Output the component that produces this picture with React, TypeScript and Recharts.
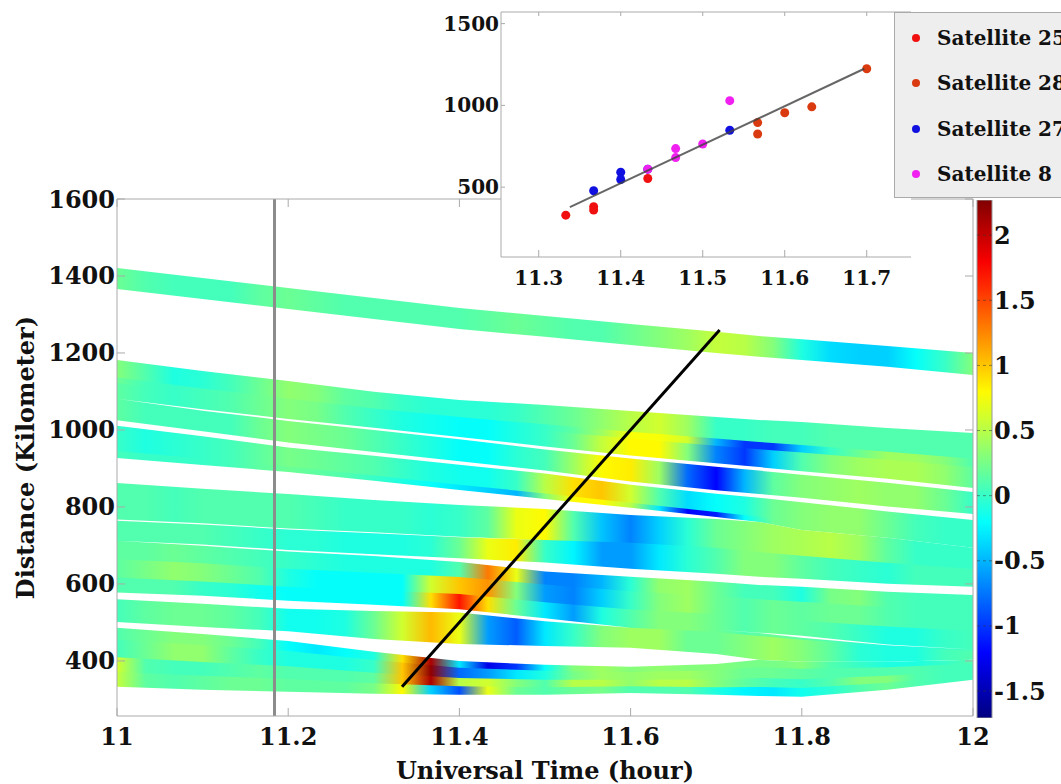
import React from "react";
import {
  ComposedChart, ScatterChart, Area, Bar, Scatter, XAxis, YAxis, ReferenceLine, CartesianGrid, Legend,
} from "recharts";

const FONT = "'DejaVu Serif', serif";

// ---------- main chart axes ----------
const xTicks = [11, 11.2, 11.4, 11.6, 11.8, 12];
const yTicks = [400, 600, 800, 1000, 1200, 1400, 1600];
const xDomain = [11, 12];
const yDomain = [257, 1600];
const colorDomain = [-1.707, 2.27];
const colorTicks = [-1.5, -1, -0.5, 0, 0.5, 1, 1.5, 2];

// ---------- band edges (km) at these times ----------
const edgeTimes = [11, 11.1, 11.2, 11.3, 11.4, 11.5, 11.6, 11.7, 11.75, 11.8, 11.9, 12];
const aTop = [1421, 1395, 1369, 1343, 1317, 1296, 1275, 1255, 1244, 1236, 1218, 1200];
const aBot = [1366, 1340, 1314, 1288, 1262, 1242, 1221, 1200, 1190, 1182, 1164, 1143];
const bTop = [1182, 1153, 1127, 1099, 1078, 1065, 1049, 1034, 1026, 1021, 1005, 992];
const slit1 = [1081, 1052, 1026, 1003, 979, 953, 930, 909, 899, 888, 868, 844];
const slit1W = [0, 4, 5, 6, 6, 8, 8, 9, 9, 9, 10, 10];
const slit2 = [1018, 990, 961, 938, 914, 891, 862, 839, 829, 818, 795, 774];
const slit2W = [14, 13, 13, 10, 9, 8, 8, 9, 10, 12, 13, 16];
const bBot = [927, 909, 891, 868, 844, 821, 798, 774, 761, 740, 720, 694];
const cTop = [862, 847, 834, 818, 805, 795, 779, 769, 761, 740, 720, 694];
const cSlit = [766, 756, 743, 733, 722, 714, 707, 694, 683, 673, 655, 639];
const cSlitW = [3, 3, 2.5, 2.5, 1.5, 0, 0, 0, 0, 0, 0, 0];
const dSlit = [712, 701, 686, 675, 662, 644, 629, 616, 608, 603, 590, 582];
const dSlitW = [0, 3, 4, 5, 10, 23, 21, 21, 21, 21, 21, 21];
const gapE = [569, 559, 546, 538, 530, 507, 486, 475, 465, 455, 439, 426];
const gapEW = [18, 21, 21, 16, 8, 8, 0, 0, 0, 0, 0, 0];
const fTopA = [501, 488, 477, 457, 444, 439, 434, 418, 403, 398, 398, 403];
const fTopB = [486, 470, 452, 424, 400, 390, 385, 392, 403, 398, 398, 403];
const hBot = [333, 325, 320, 315, 312, 312, 317, 312, 309, 307, 325, 351];
const slitG = [500, 495, 490, 486, 484, 483, 482, 481, 473, 463, 442, 430];
const slitGW = [0, 0, 0, 0, 0, 0, 0, 0, 1, 5, 2, 0];

// ---------- anomaly values, one per 2-minute column from 11 to 12 h ----------
const rowA = [0.2, 0.1, 0.05, 0.05, 0.05, 0.15, 0.2, 0.15, 0.1, 0.1, 0.1, 0.1, 0.1, 0.15, 0.2, 0.15, 0.1, 0.1, 0.2, 0.3, 0.4, 0.55, 0.5, 0.3, -0.1, -0.35, -0.4, -0.4, -0.2, 0, 0.3];
const rowB1a = [0.3, 0.1, -0.1, -0.05, 0.05, 0.2, 0.35, 0.3, 0.15, 0.1, 0, -0.05, -0.05, -0.05, 0, 0.1, 0.2, 0.35, 0.5, 0.6, 0.4, 0, 0, 0.05, 0.05, 0.1, 0.1, 0.1, 0.1, 0.1, 0.1];
const rowB1b = [0.2, 0.05, 0, 0.05, 0.1, 0.2, 0.3, 0.25, 0.1, 0, -0.1, -0.15, -0.2, -0.2, -0.1, 0, 0.15, 0.4, 0.75, 0.75, 0.6, -0.5, -1, -1, -0.4, 0, 0.2, 0.4, 0.4, 0.3, 0.1];
const rowB1c = [0.15, 0.05, 0, 0.05, 0.1, 0.2, 0.3, 0.25, 0.1, 0, -0.1, -0.15, -0.2, -0.2, -0.1, 0, 0.2, 0.55, 0.8, 0.8, 0.3, -0.7, -1, -0.4, 0.1, 0.3, 0.4, 0.45, 0.45, 0.35, 0.15];
const rowB2 = [0.15, 0.05, 0.05, 0.05, 0.05, 0.2, 0.3, 0.25, 0.2, 0.1, 0, -0.1, -0.2, -0.2, -0.05, 0.05, 0.4, 0.8, 0.85, 0.4, -0.8, -1.2, -0.5, 0.15, 0.3, 0.35, 0.4, 0.35, 0.35, 0.2, 0];
const rowB3 = [0, -0.1, -0.05, 0, 0.05, 0.15, 0.25, 0.2, 0.15, 0.1, 0, -0.1, -0.15, -0.15, 0, 0.5, 0.9, 1, 0.6, 0.1, -0.35, -0.2, -0.1, 0.2, 0.3, 0.35, 0.35, 0.2, 0.05, 0, 0];
const rowB3b = [0.05, 0, 0, 0, 0.05, 0.15, 0.2, 0.15, 0.1, 0, -0.1, -0.2, -0.3, -0.4, -0.5, 0.3, 0.8, 0.8, 0.5, -0.3, -1.2, -1.1, -0.2, 0.2, 0.3, 0.35, 0.35, 0.2, 0.05, 0, 0];
const rowC1 = [0.1, 0.1, 0.05, 0.1, 0.1, 0.1, 0.1, 0.05, 0, 0, 0, -0.05, 0, 0.15, 0.7, 0.8, 0.1, -0.45, -0.7, -0.4, -0.05, 0.2, 0.3, 0.4, 0.45, 0.5, 0.4, 0.15, 0, 0, 0];
const rowC2 = [0.1, 0.1, 0.1, 0.1, 0.05, 0, -0.05, -0.05, -0.1, -0.1, -0.1, -0.05, 0.2, 0.7, 0.85, 0, -0.25, -0.6, -0.6, -0.3, -0.05, 0.1, 0.3, 0.3, 0.15, 0.05, 0, -0.05, 0.05, 0.05, 0.05];
const rowD1 = [0.15, 0.15, 0.2, 0.15, 0.1, 0.05, 0, -0.05, -0.1, -0.1, -0.1, -0.1, 0.1, 1.3, 0.7, -0.7, -0.7, -0.5, -0.05, 0.35, 0.4, 0.2, 0.05, 0.05, -0.1, 0.25, 0.3, 0.1, 0.05, 0.05, 0.05];
const rowD2 = [0.15, 0.25, 0.35, 0.3, 0.2, 0.1, -0.1, -0.2, -0.2, -0.2, -0.2, 0.6, 1, 1.2, 0.3, -0.6, -0.7, -0.4, 0, 0.3, 0.4, 0.2, 0.1, 0.2, 0.15, 0.2, 0.2, 0.1, 0.05, 0.05, 0.05];
const rowD3 = [0.1, 0.1, 0.1, 0, -0.05, -0.15, -0.2, -0.2, -0.2, -0.2, -0.2, 0.9, 1.7, 0.9, 0.2, -0.3, -0.6, -0.1, 0.1, 0.3, 0.3, 0.2, 0.1, 0.2, 0.15, 0.1, 0, -0.1, -0.1, 0, 0.05];
const rowE = [0.05, 0.15, 0.2, 0.2, 0.15, 0.05, -0.15, -0.15, -0.1, 0.2, 0.6, 1.05, 0.7, -0.6, -0.85, -0.3, 0, 0.3, 0.4, 0.4, 0.2, 0.2, 0.3, 0.4, 0.3, 0.15, -0.05, -0.1, -0.1, 0.05, 0.1];
const rowF1 = [0.1, 0.2, 0.3, 0.3, 0.2, 0.05, -0.2, -0.3, -0.2, -0.1, 0.9, 2.1, -0.3, -1.3, -1, -0.2, 0.3, 0.4, 0.3, 0.35, 0.3, 0.3, 0.25, 0.25, 0.3, 0.1, 0, -0.1, -0.1, 0, 0.1];
const rowF2 = [0.05, 0.2, 0.35, 0.35, 0.15, 0, -0.1, -0.1, -0.1, 0, 1, 2.2, -0.8, -0.6, -0.3, -0.1, 0.25, 0.4, 0.35, 0.4, 0.4, 0.3, 0.2, 0.2, 0.15, 0.1, 0.1, 0.1, 0.1, 0.05, 0.05];
const rowF3 = [0.6, 0.1, 0.05, 0.05, 0.1, 0.15, 0.1, 0.1, 0.1, 0.15, 1, 2.1, 0.5, 0.6, 0.3, 0.1, 0.5, 0.5, 0.35, 0.5, 0.5, 0.3, 0.15, 0.05, 0, 0.1, 0.3, 0.3, 0.1, 0.05, 0.05];
const rowF4 = [0.55, 0.15, 0.1, 0.15, 0.2, 0.2, 0.15, 0.15, 0.15, 0.25, 0.8, -0.4, -0.9, 0.7, 0.2, 0.1, 0.2, 0.25, 0.1, 0.1, 0.1, -0.1, -0.25, -0.3, -0.15, -0.05, 0.1, 0.2, 0.1, 0.05, 0.05];

// ---------- fit lines and marker line ----------
const frontTimes = [11.333, 11.704];
const frontKm = [333, 1260];
const markerTime = 11.184;

// ---------- inset ----------
const insetXTicks = [11.3, 11.4, 11.5, 11.6, 11.7];
const insetYTicks = [500, 1000, 1500];
const insetXDomain = [11.254, 11.754];
const insetYDomain = [73, 1571];
const sat25 = [[11.333, 329], [11.367, 380], [11.367, 360], [11.433, 553]];
const sat28 = [[11.567, 895], [11.567, 825], [11.6, 955], [11.633, 991], [11.7, 1224]];
const sat27 = [[11.367, 478], [11.4, 591], [11.4, 547], [11.433, 610], [11.533, 848]];
const sat8 = [[11.433, 610], [11.467, 736], [11.467, 681], [11.5, 764], [11.533, 1029]];
const fitLine = [[11.338, 378], [11.697, 1224]];
const legendNames = ["Satellite 25", "Satellite 28", "Satellite 27", "Satellite 8"];
const legendColors = ["#f01010", "#d93a10", "#1010e0", "#f020f0"];

// ---------- helpers ----------
const clamp = (v: number) => Math.max(0, Math.min(1, v));
function jet(v: number) {
  const u = (v - colorDomain[0]) / (colorDomain[1] - colorDomain[0]);
  const r = clamp(Math.min(4 * u - 1.5, -4 * u + 4.5));
  const g = clamp(Math.min(4 * u - 0.5, -4 * u + 3.5));
  const b = clamp(Math.min(4 * u + 0.5, -4 * u + 2.5));
  return `rgb(${Math.round(r * 255)},${Math.round(g * 255)},${Math.round(b * 255)})`;
}
const mix = (a: number[], b: number[], f: number) => a.map((v, i) => v + (b[i] - v) * f);

type Row = { key: string; top: number[]; bottom: number[]; values: number[]; seam: boolean };
const rows: Row[] = [
  { key: "A", top: aTop, bottom: aBot, values: rowA, seam: false },
  { key: "B1a", top: bTop, bottom: mix(bTop, slit1, 0.45), values: rowB1a, seam: true },
  { key: "B1b", top: mix(bTop, slit1, 0.45), bottom: mix(bTop, slit1, 0.6), values: rowB1b, seam: true },
  { key: "B1c", top: mix(bTop, slit1, 0.6), bottom: slit1, values: rowB1c, seam: true },
  { key: "B2", top: slit1, bottom: slit2, values: rowB2, seam: true },
  { key: "B3", top: slit2, bottom: mix(slit2, bBot, 0.8), values: rowB3, seam: true },
  { key: "B3b", top: mix(slit2, bBot, 0.8), bottom: bBot, values: rowB3b, seam: false },
  { key: "C1", top: cTop, bottom: cSlit, values: rowC1, seam: true },
  { key: "C2", top: cSlit, bottom: dSlit, values: rowC2, seam: true },
  { key: "D1", top: dSlit, bottom: mix(dSlit, gapE, 1 / 3), values: rowD1, seam: true },
  { key: "D2", top: mix(dSlit, gapE, 1 / 3), bottom: mix(dSlit, gapE, 2 / 3), values: rowD2, seam: true },
  { key: "D3", top: mix(dSlit, gapE, 2 / 3), bottom: gapE, values: rowD3, seam: true },
  { key: "E", top: gapE, bottom: fTopA, values: rowE, seam: false },
  { key: "F1", top: fTopB, bottom: mix(fTopB, hBot, 0.2), values: rowF1, seam: true },
  { key: "F2", top: mix(fTopB, hBot, 0.2), bottom: mix(fTopB, hBot, 0.5), values: rowF2, seam: true },
  { key: "F3", top: mix(fTopB, hBot, 0.5), bottom: mix(fTopB, hBot, 0.75), values: rowF3, seam: true },
  { key: "F4", top: mix(fTopB, hBot, 0.75), bottom: hBot, values: rowF4, seam: false },
];
const slits: [string, number[], number[]][] = [
  ["s1", slit1, slit1W],
  ["s2", slit2, slit2W],
  ["sc", cSlit, cSlitW],
  ["sd", dSlit, dSlitW],
  ["se", gapE, gapEW],
  ["sg", slitG, slitGW],
];

const table = edgeTimes.map((t, i) => {
  const o: Record<string, unknown> = { t };
  rows.forEach((r) => {
    o[r.key] = [r.bottom[i] - (r.seam ? 3 : 0), r.top[i]];
  });
  slits.forEach(([k, c, w]) => {
    o[k] = [c[i] - w[i] / 2, c[i] + w[i] / 2];
  });
  return o;
});

const toPts = (a: number[][]) => a.map(([t, km]) => ({ t, km }));
const colorBarData = [{ c: "bar", range: colorDomain }];
const colorStops = [-1.707, -1.6, -1.4, -1.2, -1, -0.8, -0.6, -0.4, -0.2, 0, 0.15, 0.3, 0.45, 0.6, 0.8, 1, 1.2, 1.4, 1.6, 1.8, 2, 2.27];

const TICK = "#aaaaaa";
const bold = { fontFamily: FONT, fontWeight: 700, fill: "#111" };

const XTick = (size: number, len: number, dy: number) => (p: any) => (
  <g>
    <line x1={p.x} x2={p.x} y1={p.y} y2={p.y - len} stroke={TICK} strokeWidth={1} />
    <text x={p.x} y={p.y + dy} textAnchor="middle" fontSize={size} {...bold}>{p.payload.value}</text>
  </g>
);
const YTick = (size: number, len: number) => (p: any) => (
  <g>
    <line x1={p.x} x2={p.x + len} y1={p.y} y2={p.y} stroke={TICK} strokeWidth={1} />
    <text x={p.x - 2} y={p.y} textAnchor="end" dominantBaseline="central" fontSize={size} {...bold}>{p.payload.value}</text>
  </g>
);
const TopTick = (len: number) => (p: any) => (
  <line x1={p.x} x2={p.x} y1={p.y} y2={p.y + len} stroke={TICK} strokeWidth={1} />
);
const RightTick = (len: number) => (p: any) => (
  <line x1={p.x} x2={p.x - len} y1={p.y} y2={p.y} stroke={TICK} strokeWidth={1} />
);
const ColorTick = (p: any) => (
  <g>
    <line x1={p.x - 15} x2={p.x} y1={p.y} y2={p.y} stroke="#333" strokeOpacity={0.5} strokeDasharray="3 3" />
    <text x={p.x + 2} y={p.y} textAnchor="start" dominantBaseline="central" fontSize={24} {...bold}>{p.payload.value}</text>
  </g>
);

function InsetLegend() {
  return (
    <div style={{ width: 200, height: 186, boxSizing: "border-box", background: "#eeeeee", border: "1px solid #aaa", position: "relative" }}>
      {legendNames.map((n, i) => (
        <div key={n} style={{ position: "absolute", left: 0, top: 3 + i * 45.3, height: 44, lineHeight: "44px", whiteSpace: "nowrap", fontFamily: FONT, fontWeight: 600, fontSize: 20, color: "#111" }}>
          <span style={{ position: "absolute", left: 17, top: 18, width: 8, height: 8, borderRadius: 4, background: legendColors[i] }} />
          <span style={{ position: "absolute", left: 42, top: 0 }}>{n}</span>
        </div>
      ))}
    </div>
  );
}

export default function App() {
  return (
    <div style={{ position: "absolute", left: 0, top: 0, width: 1061, height: 784, overflow: "hidden", background: "#fff" }}>
      <div style={{ position: "absolute", left: 0, top: 0 }}>
        <ComposedChart width={1061} height={784} data={table} margin={{ top: 198, right: 87, bottom: 0, left: 0 }}>
          <defs>
            {rows.map((r) => (
              <linearGradient key={r.key} id={`g${r.key}`} x1="0" x2="1" y1="0" y2="0">
                {r.values.map((v, i) => (
                  <stop key={i} offset={i / (r.values.length - 1)} stopColor={jet(v)} />
                ))}
              </linearGradient>
            ))}
          </defs>
          <XAxis xAxisId="b" type="number" dataKey="t" domain={xDomain} ticks={xTicks} height={68} orientation="bottom"
            stroke={TICK} tickLine={false} tickSize={0} tickMargin={0} interval={0} allowDataOverflow
            tick={XTick(24, 8, 29)}
            label={{ value: "Universal Time (hour)", position: "insideBottom", offset: 5, fontSize: 24, fontFamily: FONT, fontWeight: 700, fill: "#111" }} />
          <XAxis xAxisId="t" type="number" dataKey="t" domain={xDomain} ticks={xTicks} height={1} orientation="top"
            stroke={TICK} tickLine={false} tickSize={0} tickMargin={0} interval={0} allowDataOverflow tick={TopTick(8)} />
          <YAxis yAxisId="l" type="number" domain={yDomain} ticks={yTicks} width={117} orientation="left"
            stroke={TICK} tickLine={false} tickSize={0} tickMargin={0} interval={0} allowDataOverflow
            tick={YTick(24, 8)}
            label={{ value: "Distance (Kilometer)", angle: -90, position: "insideLeft", offset: 25, style: { textAnchor: "middle" }, fontSize: 24, fontFamily: FONT, fontWeight: 700, fill: "#111" }} />
          <YAxis yAxisId="r" type="number" domain={yDomain} ticks={yTicks} width={1} orientation="right"
            stroke={TICK} tickLine={false} tickSize={0} tickMargin={0} interval={0} allowDataOverflow tick={RightTick(8)} />
          {rows.map((r) => (
            <Area key={r.key} xAxisId="b" yAxisId="l" type="linear" dataKey={r.key} stroke="none" fill={`url(#g${r.key})`} fillOpacity={1}
              dot={false} activeDot={false} isAnimationActive={false} legendType="none" />
          ))}
          {slits.map(([k]) => (
            <Area key={k} xAxisId="b" yAxisId="l" type="linear" dataKey={k} stroke="none" fill="#ffffff" fillOpacity={1}
              dot={false} activeDot={false} isAnimationActive={false} legendType="none" />
          ))}
          <ReferenceLine xAxisId="b" yAxisId="l" x={markerTime} stroke="#8c8c8c" strokeWidth={3} />
          <ReferenceLine xAxisId="b" yAxisId="l" stroke="#000" strokeWidth={3}
            segment={[{ x: frontTimes[0], y: frontKm[0] }, { x: frontTimes[1], y: frontKm[1] }]} />
        </ComposedChart>
      </div>

      <div style={{ position: "absolute", left: 0, top: 200 }}>
        <ComposedChart width={1061} height={518} data={colorBarData} margin={{ top: 0, right: 0, bottom: 0, left: 977 }} barCategoryGap={0}>
          <defs>
            <linearGradient id="cb" x1="0" x2="0" y1="1" y2="0">
              {colorStops.map((v) => (
                <stop key={v} offset={(v - colorDomain[0]) / (colorDomain[1] - colorDomain[0])} stopColor={jet(v)} />
              ))}
            </linearGradient>
          </defs>
          <XAxis type="category" dataKey="c" hide />
          <YAxis type="number" domain={colorDomain} ticks={colorTicks} orientation="right" width={69} axisLine={false}
            tickLine={false} tickSize={0} tickMargin={0} interval={0} allowDataOverflow tick={ColorTick} />
          <Bar dataKey="range" fill="url(#cb)" stroke="#999" isAnimationActive={false} legendType="none" />
        </ComposedChart>
      </div>

      <div style={{ position: "absolute", left: 0, top: 0 }}>
        <ScatterChart width={1061} height={486} margin={{ top: 11, right: 150, bottom: 0, left: 0 }}>
          <CartesianGrid fill="#fff" stroke="none" horizontal={false} vertical={false} />
          <XAxis xAxisId="b" type="number" dataKey="t" domain={insetXDomain} ticks={insetXTicks} height={43} orientation="bottom"
            stroke={TICK} tickLine={false} tickSize={0} tickMargin={0} interval={0} allowDataOverflow tick={XTick(20, 7, 28)} />
          <XAxis xAxisId="t" type="number" dataKey="t" domain={insetXDomain} ticks={insetXTicks} height={1} orientation="top"
            stroke={TICK} tickLine={false} tickSize={0} tickMargin={0} interval={0} allowDataOverflow tick={TopTick(4)} />
          <YAxis yAxisId="l" type="number" dataKey="km" domain={insetYDomain} ticks={insetYTicks} width={501} orientation="left"
            stroke={TICK} tickLine={false} tickSize={0} tickMargin={0} interval={0} allowDataOverflow tick={YTick(20, 4)} />
          <Scatter xAxisId="b" yAxisId="l" data={toPts(sat25)} fill={legendColors[0]} isAnimationActive={false} shape={(p: any) => <circle cx={p.cx} cy={p.cy} r={4.5} fill={legendColors[0]} />} />
          <Scatter xAxisId="b" yAxisId="l" data={toPts(sat28)} fill={legendColors[1]} isAnimationActive={false} shape={(p: any) => <circle cx={p.cx} cy={p.cy} r={4.5} fill={legendColors[1]} />} />
          <Scatter xAxisId="b" yAxisId="l" data={toPts(sat27)} fill={legendColors[2]} isAnimationActive={false} shape={(p: any) => <circle cx={p.cx} cy={p.cy} r={4.5} fill={legendColors[2]} />} />
          <Scatter xAxisId="b" yAxisId="l" data={toPts(sat8)} fill={legendColors[3]} isAnimationActive={false} shape={(p: any) => <circle cx={p.cx} cy={p.cy} r={4.5} fill={legendColors[3]} />} />
          <Scatter xAxisId="b" yAxisId="l" data={toPts(fitLine)} isAnimationActive={false} line={{ stroke: "#404040", strokeOpacity: 0.8, strokeWidth: 2 }} shape={() => <g />} />
          <Legend content={() => <InsetLegend />} layout="vertical" wrapperStyle={{ left: 894, top: 12, width: 200 }} />
        </ScatterChart>
      </div>
    </div>
  );
}
